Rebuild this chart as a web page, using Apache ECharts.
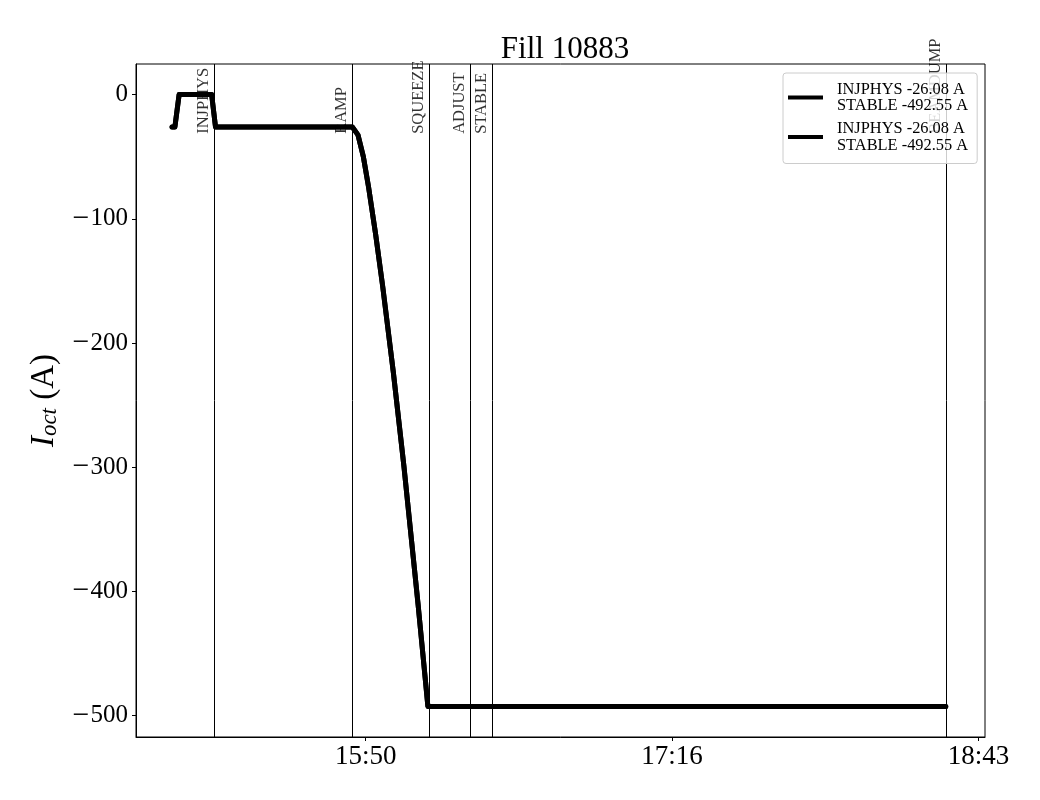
<!DOCTYPE html>
<html>
<head>
<meta charset="utf-8">
<script src="https://cdn.jsdelivr.net/npm/echarts@6/dist/echarts.min.js"></script>
<style>
html,body{margin:0;padding:0;background:#fff;}
#chart{width:1040px;height:800px;}
</style>
</head>
<body>
<div id="chart"></div>
<script>
// ---- data (time in minutes since midnight) ----
const titleText = 'Fill 10883';
const seriesLabels = ['INJPHYS -26.08 A\nSTABLE -492.55 A', 'INJPHYS -26.08 A\nSTABLE -492.55 A'];
const seriesIds = ['B1', 'B2'];
const ioctTimes = [895.4, 896.2, 897.4, 906.6, 907.7, 946.4, 948.0, 949.5, 951.0, 953.0, 955.0, 958.0, 961.0, 965.0, 967.0, 967.78, 1114.3];
const ioctValues = [-26.08, -26.08, 0, 0, -26.08, -26.08, -32.5, -49.7, -74.5, -112.5, -154.5, -223.5, -299.3, -410.3, -469.3, -492.55, -492.55];
const modeNames = ['INJPHYS', 'RAMP', 'SQUEEZE', 'ADJUST', 'STABLE', 'BEAMDUMP'];
const modeTimes = [907.36, 946.41, 968.19, 979.71, 985.85, 1114.32];
const xTickValues = [950.2, 1036.87, 1123.53];
const xTickLabels = ['15:50', '17:16', '18:43'];
const yTickValues = [0, -100, -200, -300, -400, -500];
const yTickLabels = ['0', '\u2212100', '\u2212200', '\u2212300', '\u2212400', '\u2212500'];

const serif = '"Liberation Serif", "DejaVu Serif", serif';
const lineData = ioctTimes.map((t, i) => [t, ioctValues[i]]);
const modeLabelY = -30;

function yLabel(v) {
  const i = yTickValues.findIndex(x => Math.abs(x - v) < 1e-6);
  if (i < 0) return '';
  const s = yTickLabels[i];
  return s.charAt(0) === '\u2212' ? '{m|\u2212}{d|' + s.slice(1) + '}' : '{d|' + s + '}';
}

const chart = echarts.init(document.getElementById('chart'), null, {renderer: 'canvas'});
chart.setOption({
  animation: false,
  backgroundColor: '#fff',
  title: {
    text: titleText,
    left: 560, textAlign: 'center', top: 29,
    textStyle: {fontFamily: serif, fontSize: 31, fontWeight: 'normal', color: '#000'}
  },
  grid: {left: 136, right: 55, top: 64, bottom: 63, show: true, borderColor: '#000', borderWidth: 1, backgroundColor: 'transparent'},
  legend: {
    data: seriesIds,
    orient: 'vertical',
    left: 783, top: 73,
    padding: [8, 9, 10, 5],
    itemGap: 6.5,
    itemWidth: 35, itemHeight: 4,
    icon: 'rect',
    backgroundColor: 'rgba(255,255,255,0.8)',
    borderColor: '#cccccc', borderWidth: 1, borderRadius: 3,
    formatter: name => seriesLabels[seriesIds.indexOf(name)],
    textStyle: {fontFamily: serif, fontSize: 16.4, lineHeight: 16.5, color: '#000', padding: [0, 0, 0, 9]},
    z: 20
  },
  xAxis: {
    type: 'value', min: 885.2, max: 1125.4,
    splitLine: {show: false},
    axisLine: {show: true, onZero: false, lineStyle: {color: '#000', width: 1}},
    axisTick: {show: true, customValues: xTickValues, length: 4, lineStyle: {color: '#000'}},
    axisLabel: {
      customValues: xTickValues, margin: 6,
      formatter: v => { const i = xTickValues.findIndex(x => Math.abs(x - v) < 1e-6); return i >= 0 ? xTickLabels[i] : ''; },
      fontFamily: serif, fontSize: 27, color: '#000'
    }
  },
  yAxis: {
    type: 'value', min: -517.2, max: 24.6,
    splitLine: {show: false},
    axisLine: {show: true, onZero: false, lineStyle: {color: '#000', width: 1}},
    axisTick: {show: true, customValues: yTickValues, length: 4, lineStyle: {color: '#000'}},
    axisLabel: {
      customValues: yTickValues, margin: 8,
      formatter: yLabel,
      rich: {
        m: {fontFamily: serif, fontSize: 30, color: '#000', padding: [0, 1, 0, 0]},
        d: {fontFamily: serif, fontSize: 25, color: '#000'}
      }
    },
    name: '{i|I}{s|oct}{n| (A)}',
    nameLocation: 'middle', nameRotate: 90, nameGap: 67,
    nameTextStyle: {
      rich: {
        i: {fontFamily: serif, fontSize: 33, fontStyle: 'italic', color: '#000'},
        s: {fontFamily: serif, fontSize: 23, fontStyle: 'italic', color: '#000', verticalAlign: 'bottom', padding: [12, 0, 0, 0]},
        n: {fontFamily: serif, fontSize: 33, color: '#000'}
      }
    }
  },
  series: [
    {
      name: 'modes', type: 'scatter', symbolSize: 0, silent: true, z: 1,
      data: modeTimes.map((t, i) => ({value: [t, modeLabelY], name: modeNames[i]})),
      label: {
        show: true, formatter: p => p.name, rotate: 90, position: [-2, 2],
        align: 'left', verticalAlign: 'bottom',
        fontFamily: serif, fontSize: 16.5, color: '#000'
      },
      markLine: {
        silent: true, symbol: ['none', 'none'],
        label: {show: false},
        lineStyle: {color: '#000', width: 1, type: 'solid'},
        emphasis: {disabled: true},
        data: modeTimes.map(t => ({xAxis: t}))
      }
    },
    {
      name: seriesIds[0], type: 'line', data: lineData, showSymbol: false, symbol: 'none', z: 3,
      color: '#000', lineStyle: {color: '#000', width: 5, join: 'round', cap: 'round'}
    },
    {
      name: seriesIds[1], type: 'line', data: lineData, showSymbol: false, symbol: 'none', z: 3,
      color: '#000', lineStyle: {color: '#000', width: 5, join: 'round', cap: 'round'}
    }
  ]
});
</script>
</body>
</html>
